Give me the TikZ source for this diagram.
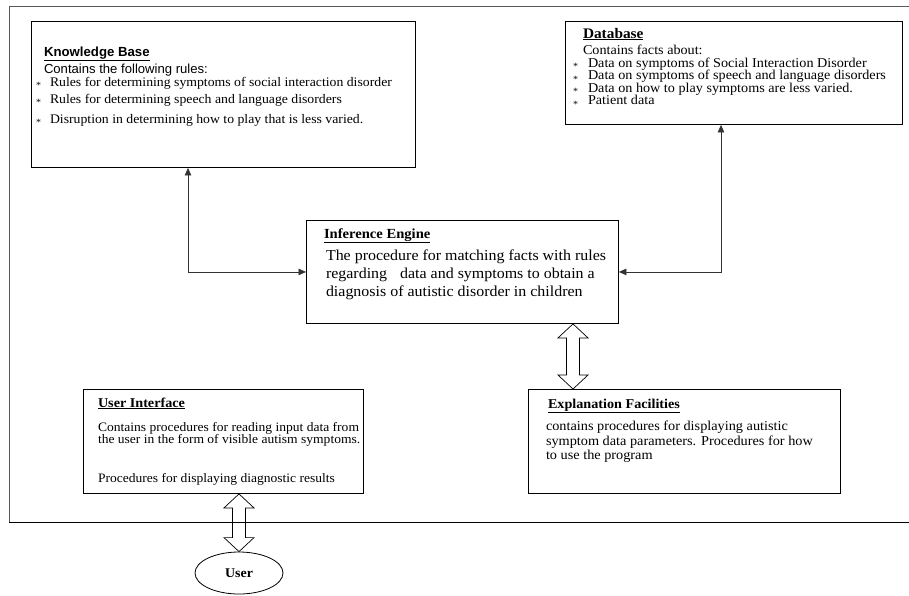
\documentclass[tikz,border=0pt]{standalone}
\usepackage{fontspec}
\setmainfont[FakeStretch=1.05]{Liberation Serif}
\newfontfamily\sanshead{Liberation Sans}
\usetikzlibrary{arrows.meta,calc,shapes.geometric}

% small lowered asterisk used as a list bullet
\newcommand\itemstar[1]{\makebox[#1][l]{\raisebox{-2.5pt}{\fontsize{9.5}{9.5}\selectfont *}}}

% hollow double-headed block arrow between two points on a vertical line
\newcommand\hollowarrow[2]{%
  \draw[hollow] let \p1=#1, \p2=#2 in
    (\x1,\y1) -- (\x1+15,\y1-14) -- (\x1+6.5,\y1-14) -- (\x1+6.5,\y2+14)
    -- (\x1+15,\y2+14) -- (\x1,\y2) -- (\x1-15,\y2+14) -- (\x1-6.5,\y2+14)
    -- (\x1-6.5,\y1-14) -- (\x1-15,\y1-14) -- cycle;}

\begin{document}
\begin{tikzpicture}[x=1pt,y=-1pt,
  box/.style={draw=black, line width=0.9pt, anchor=north west, inner sep=0pt},
  txt/.style={anchor=base west, inner sep=0pt, outer sep=0pt},
  link/.style={draw=black!80, line width=0.8pt,
    {Triangle[length=7.5pt,width=6.5pt]}-{Triangle[length=7.5pt,width=6.5pt]}},
  hollow/.style={draw=black, line width=0.7pt, fill=white},
  serifhead/.style={txt, font=\fontsize{13.9}{16}\selectfont\bfseries},
]
\useasboundingbox (0,0) rectangle (909,595);

% outer frame (open on the right)
\draw[black!65, line width=1pt] (909,6) -- (9,6) -- (9,522);

% component boxes
\node[box, minimum width=384pt, minimum height=146pt] (kb) at (31,21) {};
\node[box, minimum width=337pt, minimum height=103pt] (db) at (565,21) {};
\node[box, minimum width=312pt, minimum height=103pt] (ie) at (306,220) {};
\node[box, minimum width=280pt, minimum height=104pt] (ui) at (83,389) {};
\node[box, minimum width=312pt, minimum height=104pt] (ef) at (528,389) {};
\node[draw, ellipse, line width=0.8pt, minimum width=88pt, minimum height=42pt,
      inner sep=0pt] (user) at (239,573) {\fontsize{13.3}{15}\selectfont\bfseries User};

% Knowledge Base text
\node[txt, font=\sanshead\fontsize{13.2}{15}\selectfont\bfseries] (kbt) at (44,56) {\underline{Knowledge Base}};
\node[txt, font=\sanshead\fontsize{13.1}{15}\selectfont] (kbc) at (44,73) {Contains the following rules:};
\begin{scope}[every node/.append style={txt, font=\fontsize{13.1}{15}\selectfont}]
\node (kb1) at (36,86)  {\itemstar{14pt}Rules for determining symptoms of social interaction disorder};
\node (kb2) at (36,103) {\itemstar{14pt}Rules for determining speech and language disorders};
\node (kb3) at (36,123) {\itemstar{14pt}Disruption in determining how to play that is less varied.};
\end{scope}

% Database text
\node[serifhead, font=\fontsize{14.6}{16}\selectfont\bfseries] (dbt) at (583,38) {\underline{Database}};
\begin{scope}[every node/.append style={txt, font=\fontsize{13.5}{15}\selectfont}]
\node (dbc) at (583,54) {Contains facts about:};
\node (db1) at (573,67) {\itemstar{15pt}Data on symptoms of Social Interaction Disorder};
\node (db2) at (573,79.5) {\itemstar{15pt}Data on symptoms of speech and language disorders};
\node (db3) at (573,92) {\itemstar{15pt}Data on how to play symptoms are less varied.};
\node (db4) at (573,104.5) {\itemstar{15pt}Patient data};
\end{scope}

% Inference Engine text
\node[serifhead] (iet) at (324,238) {\underline{Inference Engine}};
\begin{scope}[every node/.append style={txt, font=\fontsize{15.2}{17}\selectfont}]
\node (ie1) at (326,260) {The procedure for matching facts with rules};
\node (ie2) at (326,278) {regarding\hspace{13pt}data and symptoms to obtain a};
\node (ie3) at (326,296) {diagnosis of autistic disorder in children};
\end{scope}

% User Interface text
\node[serifhead, font=\fontsize{13.5}{15}\selectfont\bfseries] (uit) at (98,407) {\underline{User Interface}};
\begin{scope}[every node/.append style={txt, font=\fontsize{12.9}{14}\selectfont}]
\node (ui1) at (98,431) {Contains procedures for reading input data from};
\node (ui2) at (98,443) {the user in the form of visible autism symptoms.};
\node (ui3) at (98,482) {Procedures for displaying diagnostic results};
\end{scope}

% Explanation Facilities text
\node[serifhead, font=\fontsize{13.5}{15}\selectfont\bfseries] (eft) at (548,408) {\underline{Explanation Facilities}};
\begin{scope}[every node/.append style={txt, font=\fontsize{13.6}{15}\selectfont}]
\node (ef1) at (546,430) {contains procedures for displaying autistic};
\node (ef2) at (546,445) {symptom data parameters. Procedures for how};
\node (ef3) at (546,459) {to use the program};
\end{scope}

% connectors
\coordinate (kbj) at (188,271);
\coordinate (dbj) at (721,271);
\coordinate (iex) at (573,0);
\coordinate (uix) at (239,0);
\draw[link] (kb.south -| kbj) |- (ie.west);
\draw[link] (db.south -| dbj) |- (ie.east);
\hollowarrow{(ie.south -| iex)}{(ef.north -| iex)}
\hollowarrow{(ui.south -| uix)}{(user.north)}

% bottom edge of the frame, drawn over the user arrow
\draw[black, line width=0.9pt] (9,522) -- (909,522);
\end{tikzpicture}
\end{document}
